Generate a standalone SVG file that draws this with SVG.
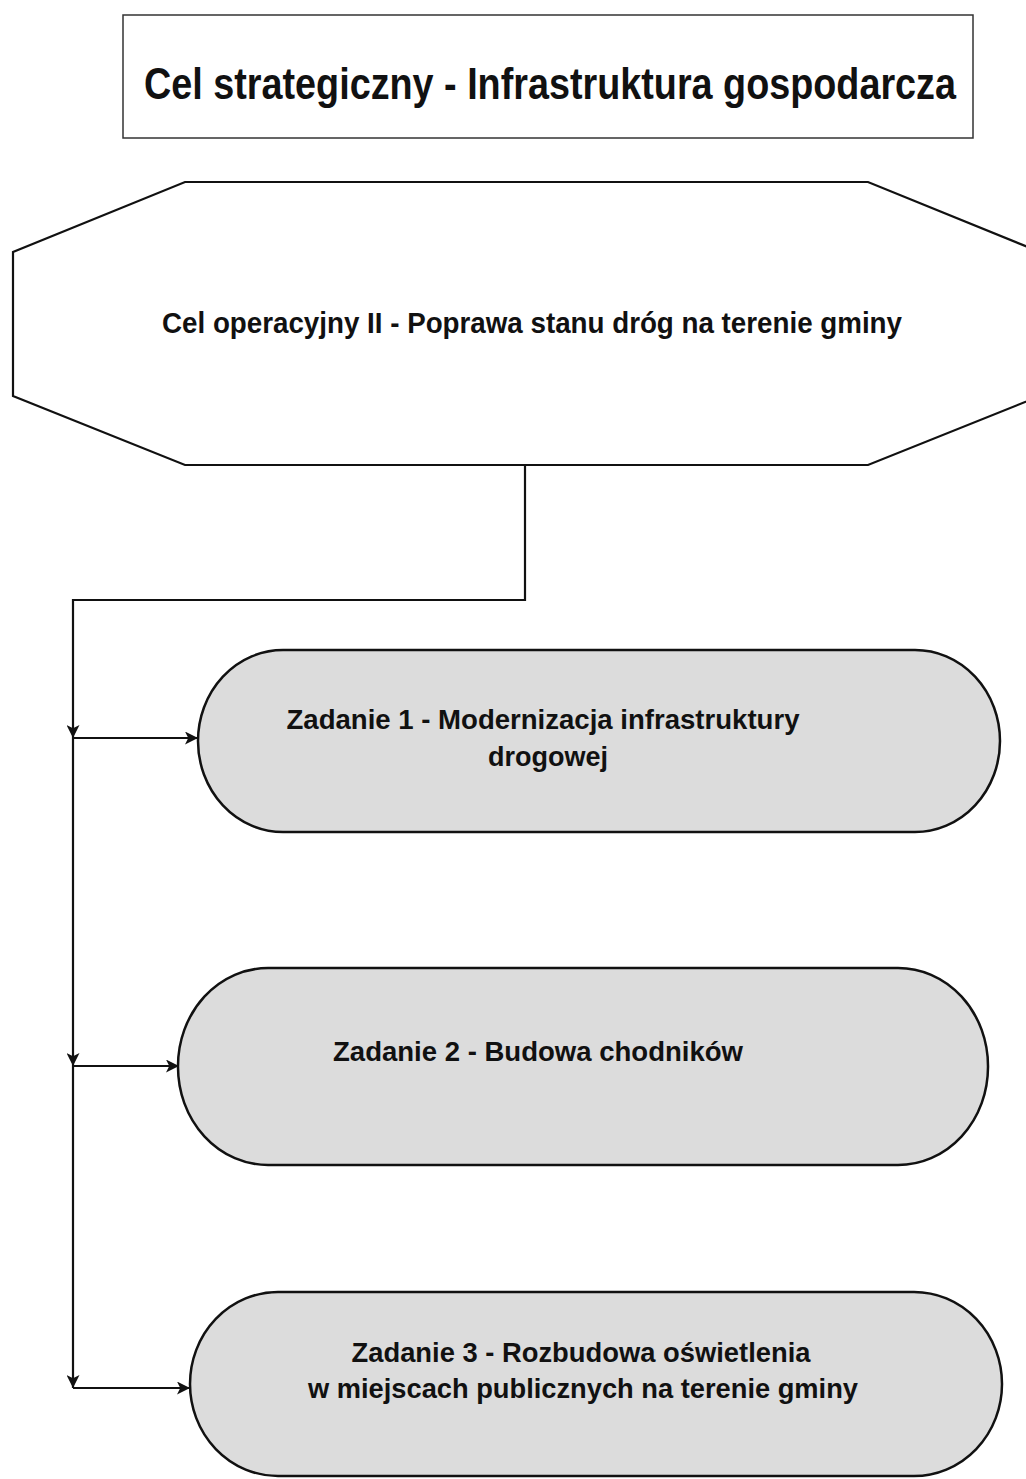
<svg xmlns="http://www.w3.org/2000/svg" width="1026" height="1479" viewBox="0 0 1026 1479">
<style>
text{font-family:"Liberation Sans Narrow","Liberation Sans",Arial,sans-serif;font-weight:bold;fill:#111;}
.ln{fill:none;stroke:#111;stroke-width:2.2;}
.pill{fill:#dcdcdc;stroke:#111;stroke-width:2.5;}
.box{fill:#fff;stroke:#333;stroke-width:1.5;}
.oct{fill:#fff;stroke:#111;stroke-width:2.2;}
</style>
<defs>
<marker id="ar" viewBox="0 0 12 12" refX="12" refY="6" markerWidth="13" markerHeight="13" markerUnits="userSpaceOnUse" orient="auto">
<path d="M0,0 L12,6 L0,12 L3,6 Z" fill="#111"/>
</marker>
</defs>
<rect width="1026" height="1479" fill="#fff"/>
<g id="strategic">
<rect class="box" x="123" y="15" width="850" height="123"/>
<text x="550" y="99" font-size="45" text-anchor="middle" textLength="812" lengthAdjust="spacingAndGlyphs">Cel strategiczny - Infrastruktura gospodarcza</text>
</g>
<g id="operational">
<polygon class="oct" points="185,182 868,182 1040,252 1040,396 868,465 185,465 13,396 13,252"/>
<text x="532" y="333" font-size="29" text-anchor="middle" textLength="740" lengthAdjust="spacingAndGlyphs">Cel operacyjny II -  Poprawa stanu dróg na terenie gminy</text>
</g>
<g id="task1">
<rect class="pill" x="198" y="650" width="802" height="182" rx="85" ry="91"/>
<text x="543" y="729" font-size="28" text-anchor="middle" textLength="513" lengthAdjust="spacingAndGlyphs">Zadanie 1 - Modernizacja infrastruktury</text>
<text x="548" y="766" font-size="28" text-anchor="middle" textLength="120" lengthAdjust="spacingAndGlyphs">drogowej</text>
</g>
<g id="task2">
<rect class="pill" x="178" y="968" width="810" height="197" rx="90" ry="98"/>
<text x="538" y="1061" font-size="28" text-anchor="middle" textLength="410" lengthAdjust="spacingAndGlyphs">Zadanie 2 - Budowa chodników</text>
</g>
<g id="task3">
<rect class="pill" x="190" y="1292" width="812" height="184" rx="88" ry="92"/>
<text x="581" y="1362" font-size="28" text-anchor="middle" textLength="459" lengthAdjust="spacingAndGlyphs">Zadanie 3 - Rozbudowa oświetlenia</text>
<text x="583" y="1398" font-size="28" text-anchor="middle" textLength="550" lengthAdjust="spacingAndGlyphs">w miejscach publicznych na terenie gminy</text>
</g>
<g id="connectors">
<polyline class="ln" points="525,465 525,600 73,600 73,738" marker-end="url(#ar)"/>
<polyline class="ln" points="73,738 73,1066" marker-end="url(#ar)"/>
<polyline class="ln" points="73,1066 73,1388" marker-end="url(#ar)"/>
<line class="ln" x1="73" y1="738" x2="198" y2="738" marker-end="url(#ar)"/>
<line class="ln" x1="73" y1="1066" x2="179" y2="1066" marker-end="url(#ar)"/>
<line class="ln" x1="73" y1="1388" x2="190" y2="1388" marker-end="url(#ar)"/>
</g>
</svg>
